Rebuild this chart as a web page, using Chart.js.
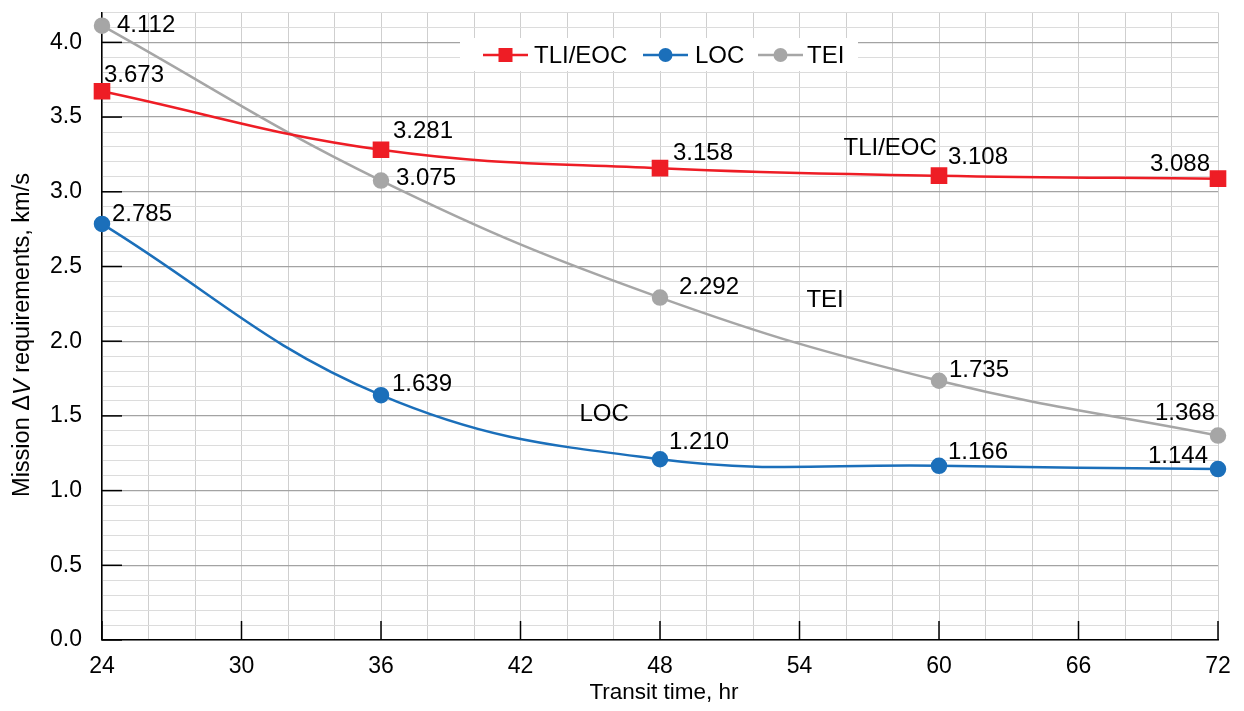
<!DOCTYPE html>
<html>
<head>
<meta charset="utf-8">
<title>Mission delta-V vs transit time</title>
<script src="https://cdn.jsdelivr.net/npm/chart.js@4"></script>
<style>
  html, body { margin: 0; padding: 0; background: #fff; }
  #wrap { width: 1244px; height: 711px; }
</style>
</head>
<body>
<div id="wrap"><canvas id="dvChart" width="1244" height="711"></canvas></div>
<script>
// Data
const transitHours = [24, 36, 48, 60, 72];
const tliEoc = [3.673, 3.281, 3.158, 3.108, 3.088];
const loc = [2.785, 1.639, 1.210, 1.166, 1.144];
const tei = [4.112, 3.075, 2.292, 1.735, 1.368];
const seriesNames = ['TLI/EOC', 'LOC', 'TEI'];
const xTickLabels = [24, 30, 36, 42, 48, 54, 60, 66, 72];
const yTickLabels = ['0.0', '0.5', '1.0', '1.5', '2.0', '2.5', '3.0', '3.5', '4.0'];

document.addEventListener('DOMContentLoaded', () => {
  const RED = '#ee1d25';
  const BLUE = '#1b6fba';
  const GRAY = '#a6a6a6';
  const FONT = '"Liberation Sans", Arial, sans-serif';

  // where each value label sits relative to its point: [dx, dy, align]
  const labelOffsets = [
    [[2, -16, 'left'], [12, -18, 'left'], [13, -15, 'left'], [9, -18, 'left'], [-8, -14, 'right']],
    [[10, -10, 'left'], [11, -11, 'left'], [9, -17, 'left'], [9, -13, 'left'], [-10, -13, 'right']],
    [[15, 0, 'left'], [15, -2, 'left'], [19, -10, 'left'], [10, -10, 'left'], [-3, -22, 'right']]
  ];
  // in-plot curve names (data coordinates)
  const curveNotes = [
    { text: 'TLI/EOC', x: 57.9, y: 3.29 },
    { text: 'TEI', x: 55.1, y: 2.27 },
    { text: 'LOC', x: 45.6, y: 1.51 }
  ];

  const isMajorY = v => Math.round(v * 10) % 5 === 0;

  const annotate = {
    id: 'annotate',
    // legend box + inner tick marks, drawn after the grid
    beforeDatasetsDraw(chart) {
      const { ctx, chartArea: a, scales } = chart;
      ctx.save();
      ctx.strokeStyle = '#000';
      ctx.lineWidth = 1.5;
      yTickLabels.forEach(t => {
        const y = scales.y.getPixelForValue(parseFloat(t));
        ctx.beginPath();
        ctx.moveTo(a.left, y);
        ctx.lineTo(a.left + 20, y);
        ctx.stroke();
      });
      xTickLabels.forEach(t => {
        const x = scales.x.getPixelForValue(t);
        ctx.beginPath();
        ctx.moveTo(x, a.bottom);
        ctx.lineTo(x, a.bottom - 19);
        ctx.stroke();
      });

      // legend
      ctx.fillStyle = '#fff';
      ctx.fillRect(460, 38, 398, 33);
      const items = [
        { x: 483, color: RED, style: 'rect', textX: 534 },
        { x: 643, color: BLUE, style: 'circle', textX: 695 },
        { x: 758, color: GRAY, style: 'circle', textX: 807 }
      ];
      const ly = 55;
      ctx.font = '24px ' + FONT;
      ctx.textBaseline = 'middle';
      ctx.textAlign = 'left';
      items.forEach((it, i) => {
        ctx.strokeStyle = it.color;
        ctx.fillStyle = it.color;
        ctx.lineWidth = 2.5;
        ctx.beginPath();
        ctx.moveTo(it.x, ly);
        ctx.lineTo(it.x + 45, ly);
        ctx.stroke();
        if (it.style === 'rect') {
          ctx.fillRect(it.x + 15.5, ly - 7, 14, 14);
        } else {
          ctx.beginPath();
          ctx.arc(it.x + 22.5, ly, 7, 0, Math.PI * 2);
          ctx.fill();
        }
        ctx.fillStyle = '#000';
        ctx.fillText(seriesNames[i], it.textX, ly + 1);
      });
      ctx.restore();
    },
    // value labels, curve names, axis titles
    afterDatasetsDraw(chart) {
      const { ctx, chartArea: a, scales } = chart;
      ctx.save();
      ctx.font = '24px ' + FONT;
      ctx.fillStyle = '#000';
      ctx.textBaseline = 'middle';
      chart.data.datasets.forEach((ds, di) => {
        const meta = chart.getDatasetMeta(di);
        meta.data.forEach((pt, i) => {
          const [dx, dy, align] = labelOffsets[di][i];
          ctx.textAlign = align;
          ctx.fillText(ds.data[i].y.toFixed(3), pt.x + dx, pt.y + dy);
        });
      });

      ctx.textAlign = 'center';
      curveNotes.forEach(n => {
        ctx.fillText(n.text, scales.x.getPixelForValue(n.x), scales.y.getPixelForValue(n.y));
      });

      // x title
      ctx.font = '22.5px ' + FONT;
      ctx.fillText('Transit time, hr', (a.left + a.right) / 2 + 4, 693);

      // y title with italic V
      const parts = [
        { t: 'Mission ', f: '23.5px ' + FONT },
        { t: '\u0394', f: '23.5px ' + FONT },
        { t: 'V', f: 'italic 23.5px ' + FONT },
        { t: ' requirements, km/s', f: '23.5px ' + FONT }
      ];
      let total = 0;
      parts.forEach(p => { ctx.font = p.f; p.w = ctx.measureText(p.t).width; total += p.w; });
      ctx.translate(23, 335);
      ctx.rotate(-Math.PI / 2);
      ctx.textAlign = 'left';
      let cx = -total / 2;
      parts.forEach(p => {
        ctx.font = p.f;
        ctx.fillText(p.t, cx, 0);
        cx += p.w;
      });
      ctx.restore();
    }
  };

  const toPoints = vals => transitHours.map((h, i) => ({ x: h, y: vals[i] }));

  new Chart(document.getElementById('dvChart').getContext('2d'), {
    type: 'line',
    data: {
      datasets: [
        {
          label: seriesNames[0],
          data: toPoints(tliEoc),
          borderColor: RED,
          backgroundColor: RED,
          pointStyle: 'rect',
          pointRadius: 10,
          borderWidth: 2.5,
          tension: 0.4
        },
        {
          label: seriesNames[1],
          data: toPoints(loc),
          borderColor: BLUE,
          backgroundColor: BLUE,
          pointStyle: 'circle',
          pointRadius: 7,
          borderWidth: 2.5,
          tension: 0.4
        },
        {
          label: seriesNames[2],
          data: toPoints(tei),
          borderColor: GRAY,
          backgroundColor: GRAY,
          pointStyle: 'circle',
          pointRadius: 7,
          borderWidth: 2.5,
          tension: 0.4
        }
      ]
    },
    options: {
      responsive: false,
      animation: false,
      clip: false,
      layout: { padding: { top: 8, right: 26, left: 0, bottom: 0 } },
      plugins: {
        legend: { display: false },
        tooltip: { enabled: false }
      },
      scales: {
        x: {
          type: 'linear',
          min: 24,
          max: 72,
          afterFit: s => { s.height = 71; s.paddingLeft = 0; s.paddingRight = 0; },
          border: { color: '#000', width: 1.5 },
          grid: { color: '#cfcfcf', lineWidth: 1, drawTicks: false },
          ticks: {
            stepSize: 2,
            autoSkip: false,
            maxRotation: 0,
            padding: 13,
            color: '#000',
            font: { family: FONT, size: 23 },
            callback: v => (xTickLabels.includes(v) ? String(v) : '')
          }
        },
        y: {
          min: 0,
          max: 4.2,
          afterFit: s => { s.width = 102; s.paddingTop = 0; s.paddingBottom = 0; },
          border: { color: '#000', width: 1.5 },
          grid: {
            drawTicks: false,
            color: c => (isMajorY(c.tick.value) ? '#a3a3a3' : '#dcdcdc'),
            lineWidth: c => (isMajorY(c.tick.value) ? 1.3 : 1)
          },
          ticks: {
            stepSize: 0.1,
            autoSkip: false,
            padding: 20,
            color: '#000',
            font: { family: FONT, size: 23 },
            callback: v => (isMajorY(v) ? (Math.round(v * 10) / 10).toFixed(1) : '')
          }
        }
      }
    },
    plugins: [annotate]
  });
});
</script>
</body>
</html>
